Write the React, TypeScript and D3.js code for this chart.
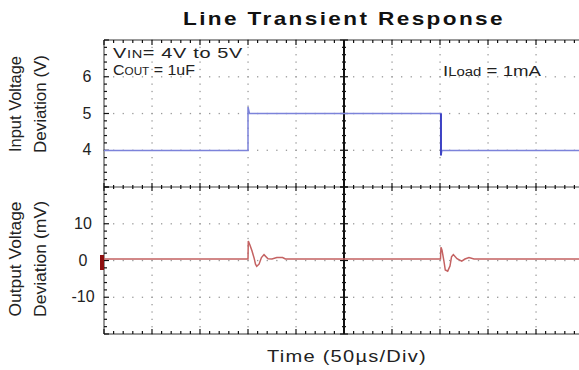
import * as d3 from "d3";

// scope settings: 50 us per division, 10 divisions
const timeTicks = [0, 50, 100, 150, 200, 250, 300, 350, 400, 450, 500];
const inputTicks = [6, 5, 4];
const outputTicks = [10, 0, -10];

// input voltage (V) vs time (us)
const inputTime = [0, 150, 150, 151.5, 351, 351, 352, 500];
const inputValue = [3.99, 3.99, 5.18, 5.0, 5.0, 3.86, 3.99, 3.99];

// output voltage deviation (mV) vs time (us)
const outputTime = [
  0, 150, 150.3, 152, 154.2, 156.5, 157.8, 159.1, 161.5, 164, 166.7, 170.8, 175, 180, 186, 189,
  350.5, 351, 352.1, 354, 355.5, 358, 360.4, 362, 363.9, 367.7, 372.6, 376, 380.2, 385.4, 500,
];
const outputValue = [
  0.4, 0.4, 5.3, 4.2, 2.6, 0.5, -1.0, -1.6, -1.0, 0.8, 1.6, 0.5, 0.4, 0.8, 0.8, 0.4,
  0.4, 3.6, 2.8, 0.0, -2.6, -2.9, -1.5, 1.0, 1.6, 0.5, -0.2, 0.4, 0.8, 0.4, 0.4,
];

const W = 579;
const H = 370;
const font = "'Liberation Sans', Arial, sans-serif";

export default function App() {
  const left = 104;
  const right = 584;
  const top = 40;
  const mid = 187;
  const bottom = 334;

  const x = d3.scaleLinear().domain([0, 500]).range([left, right]);
  const yTop = d3.scaleLinear().domain([3, 7]).range([mid, top]);
  const yBot = d3.scaleLinear().domain([-20, 20]).range([bottom, mid]);

  const inLine = d3
    .line<number>()
    .x((_, i) => x(inputTime[i]))
    .y((d) => yTop(d))(inputValue);
  const outLine = d3
    .line<number>()
    .x((_, i) => x(outputTime[i]))
    .y((d) => yBot(d))(outputValue);

  // minor steps: 5 per division
  const xMinor = d3.range(0, 501, 10);
  const yTopMinor = d3.range(3, 7.01, 0.2);
  const yBotMinor = d3.range(-20, 20.01, 2);

  const dot = (key: string, px: number, py: number) => (
    <rect key={key} x={px - 0.6} y={py - 0.6} width={1.3} height={1.3} fill="#9a9a9a" />
  );

  const dots: JSX.Element[] = [];
  // vertical dotted grid lines
  timeTicks.slice(1, -1).forEach((t) => {
    if (t === 250) return;
    yTopMinor.forEach((v, i) => dots.push(dot(`vt${t}-${i}`, x(t), yTop(v))));
    yBotMinor.forEach((v, i) => dots.push(dot(`vb${t}-${i}`, x(t), yBot(v))));
  });
  // horizontal dotted grid lines
  inputTicks.forEach((v) => xMinor.forEach((t, i) => dots.push(dot(`ht${v}-${i}`, x(t), yTop(v)))));
  outputTicks.forEach((v) => xMinor.forEach((t, i) => dots.push(dot(`hb${v}-${i}`, x(t), yBot(v)))));

  const ticks: JSX.Element[] = [];
  xMinor.forEach((t, i) => {
    const len = t % 50 === 0 ? 5 : 3;
    ticks.push(<line key={`tt${i}`} x1={x(t)} x2={x(t)} y1={top} y2={top + len} stroke="#111" strokeWidth={1.2} />);
    ticks.push(<line key={`tb${i}`} x1={x(t)} x2={x(t)} y1={bottom} y2={bottom - len} stroke="#111" strokeWidth={1.2} />);
    ticks.push(<line key={`tm${i}`} x1={x(t)} x2={x(t)} y1={mid - len + 1} y2={mid + len - 1} stroke="#111" strokeWidth={1.2} />);
  });
  const yMinorPix = yTopMinor.map((v) => yTop(v)).concat(yBotMinor.map((v) => yBot(v)));
  yMinorPix.forEach((py, i) => {
    const k = i < yTopMinor.length ? i : i - yTopMinor.length;
    const len = k % 5 === 0 ? 5 : 3;
    ticks.push(<line key={`tl${i}`} x1={left} x2={left + len} y1={py} y2={py} stroke="#111" strokeWidth={1.2} />);
    ticks.push(<line key={`tc${i}`} x1={x(250) - len + 1} x2={x(250) + len - 1} y1={py} y2={py} stroke="#111" strokeWidth={1.2} />);
  });

  return (
    <svg width={W} height={H} style={{ position: "absolute", left: 0, top: 0, background: "#fff" }} fontFamily={font}>
      <rect width={W} height={H} fill="#fff" />
      <text x={183} y={25} fontSize={19} fontWeight="bold" fill="#111" letterSpacing={2} textLength={322} lengthAdjust="spacingAndGlyphs">
        Line Transient Response
      </text>

      {dots}

      {/* frame */}
      <line x1={left} x2={right} y1={top} y2={top} stroke="#333" />
      <line x1={left} x2={right} y1={bottom} y2={bottom} stroke="#333" />
      <line x1={left} x2={left} y1={top} y2={bottom} stroke="#333" />
      <line x1={left} x2={right} y1={mid} y2={mid} stroke="#444" />
      <line x1={x(250)} x2={x(250)} y1={top} y2={bottom} stroke="#111" strokeWidth={2} />
      {ticks}

      {/* traces */}
      <path d={inLine ?? ""} fill="none" stroke="#7c83da" strokeWidth={1.5} />
      <line x1={x(351)} x2={x(351)} y1={yTop(5)} y2={yTop(3.86)} stroke="#3d42c4" strokeWidth={2} />
      <rect x={100} y={yBot(0) - 5.5} width={4} height={15} fill="#8e0f0f" />
      <path d={outLine ?? ""} fill="none" stroke="#c46262" strokeWidth={1.5} />

      {/* tick labels */}
      {inputTicks.map((v) => (
        <text key={`il${v}`} x={87} y={yTop(v) + 5} fontSize={16} textAnchor="middle" fill="#222">
          {v}
        </text>
      ))}
      {outputTicks.map((v) => (
        <text key={`ol${v}`} x={83} y={yBot(v) + 5} fontSize={16} textAnchor="middle" fill="#222">
          {v}
        </text>
      ))}

      {/* axis titles */}
      <g transform="translate(21,104) rotate(-90)">
        <text x={0} y={0} fontSize={16} textAnchor="middle" fill="#222" textLength={96} lengthAdjust="spacingAndGlyphs">
          Input Voltage
        </text>
        <text x={0} y={25} fontSize={16} textAnchor="middle" fill="#222" textLength={98} lengthAdjust="spacingAndGlyphs">
          Deviation (V)
        </text>
      </g>
      <g transform="translate(21,259) rotate(-90)">
        <text x={0} y={0} fontSize={16} textAnchor="middle" fill="#222" textLength={115} lengthAdjust="spacingAndGlyphs">
          Output Voltage
        </text>
        <text x={0} y={25} fontSize={16} textAnchor="middle" fill="#222" textLength={116} lengthAdjust="spacingAndGlyphs">
          Deviation (mV)
        </text>
      </g>
      <text x={267} y={362} fontSize={16} fill="#222" letterSpacing={1} textLength={160} lengthAdjust="spacingAndGlyphs">
        Time (50µs/Div)
      </text>

      {/* annotations */}
      <text x={113} y={58} fontSize={15} fill="#222" letterSpacing={0.5} textLength={130} lengthAdjust="spacingAndGlyphs">
        V<tspan fontSize={11}>IN</tspan>= 4V to 5V
      </text>
      <text x={113} y={75} fontSize={15} fill="#222" textLength={82} lengthAdjust="spacingAndGlyphs">
        C<tspan fontSize={11}>OUT</tspan> = 1uF
      </text>
      <text x={443} y={76} fontSize={15} fill="#222" textLength={98} lengthAdjust="spacingAndGlyphs">
        I<tspan fontSize={12}>Load</tspan> = 1mA
      </text>
    </svg>
  );
}
